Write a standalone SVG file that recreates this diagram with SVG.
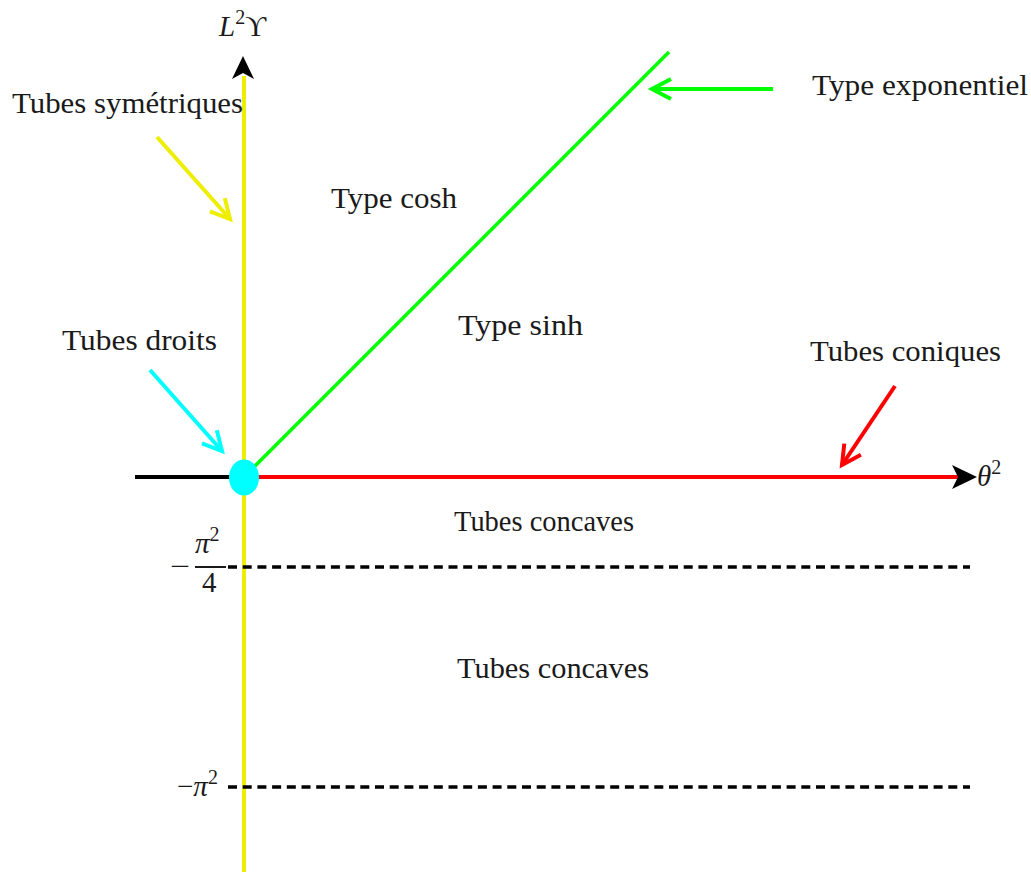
<svg xmlns="http://www.w3.org/2000/svg" width="1031" height="872" viewBox="0 0 1031 872">
<style>
text{font-family:"Liberation Serif","DejaVu Serif",serif;font-size:29px;fill:#1a1a1a}
.it{font-style:italic}
.sup{font-size:20px}
.dash{stroke:#000;stroke-width:3.5;stroke-dasharray:9 5.7;fill:none}
</style>
<defs>
<marker id="hy" markerUnits="userSpaceOnUse" markerWidth="30" markerHeight="30" viewBox="-25 -15 30 30" refX="0" refY="0" orient="auto"><path d="M-19,-10 L0,0 L-19,10" fill="none" stroke="#eeee00" stroke-width="4"/></marker>
<marker id="hc" markerUnits="userSpaceOnUse" markerWidth="30" markerHeight="30" viewBox="-25 -15 30 30" refX="0" refY="0" orient="auto"><path d="M-19,-10 L0,0 L-19,10" fill="none" stroke="#00ffff" stroke-width="4"/></marker>
<marker id="hr" markerUnits="userSpaceOnUse" markerWidth="30" markerHeight="30" viewBox="-25 -15 30 30" refX="0" refY="0" orient="auto"><path d="M-19,-10 L0,0 L-19,10" fill="none" stroke="#ff0000" stroke-width="4"/></marker>
<marker id="hg" markerUnits="userSpaceOnUse" markerWidth="30" markerHeight="30" viewBox="-25 -15 30 30" refX="0" refY="0" orient="auto"><path d="M-19,-10 L0,0 L-19,10" fill="none" stroke="#00ff00" stroke-width="4"/></marker>
</defs>
<g id="connectors">
<line x1="135" y1="477" x2="232" y2="477" stroke="#000" stroke-width="4"/>
<line x1="256" y1="477" x2="958" y2="477" stroke="#ff0000" stroke-width="4"/>
<path d="M977,477 L952,465 L958,477 L952,489 Z" fill="#000"/>
<line x1="244" y1="76" x2="244" y2="872" stroke="#eeee00" stroke-width="4"/>
<path d="M243,56 L232,79 L243,73 L254,79 Z" fill="#000"/>
<line x1="254" y1="467" x2="669" y2="52" stroke="#00ff00" stroke-width="3.5"/>
<line class="dash" x1="228" y1="567" x2="970" y2="567"/>
<line class="dash" x1="228" y1="787" x2="970" y2="787"/>
<line x1="773" y1="89" x2="652" y2="89" stroke="#00ff00" stroke-width="4" marker-end="url(#hg)"/>
<line x1="157" y1="137" x2="230" y2="219" stroke="#eeee00" stroke-width="4" marker-end="url(#hy)"/>
<line x1="150" y1="370" x2="222" y2="451" stroke="#00ffff" stroke-width="4" marker-end="url(#hc)"/>
<line x1="895" y1="386" x2="842" y2="465" stroke="#ff0000" stroke-width="4" marker-end="url(#hr)"/>
</g>
<g id="origin"><ellipse cx="244" cy="477.5" rx="15" ry="18" fill="#00ffff"/></g>
<g id="labels">
<text x="219" y="36"><tspan class="it">L</tspan><tspan class="sup" dy="-12">2</tspan><tspan dy="12">ϒ</tspan></text>
<text x="977" y="486"><tspan class="it">θ</tspan><tspan class="sup" dy="-12">2</tspan></text>
<text x="12" y="113" textLength="231" lengthAdjust="spacingAndGlyphs">Tubes symétriques</text>
<text x="331" y="208" textLength="126" lengthAdjust="spacingAndGlyphs">Type cosh</text>
<text x="458" y="335" textLength="125" lengthAdjust="spacingAndGlyphs">Type sinh</text>
<text x="812" y="95" textLength="216" lengthAdjust="spacingAndGlyphs">Type exponentiel</text>
<text x="62" y="350" textLength="155" lengthAdjust="spacingAndGlyphs">Tubes droits</text>
<text x="810" y="361" textLength="191" lengthAdjust="spacingAndGlyphs">Tubes coniques</text>
<text x="454" y="531" textLength="180" lengthAdjust="spacingAndGlyphs">Tubes concaves</text>
<text x="457" y="678" textLength="192" lengthAdjust="spacingAndGlyphs" style="font-size:30px">Tubes concaves</text>
<text x="170" y="576" textLength="20" lengthAdjust="spacingAndGlyphs">−</text>
<text x="195" y="553"><tspan class="it">π</tspan><tspan class="sup" dy="-12">2</tspan></text>
<line x1="195" y1="567" x2="226" y2="567" stroke="#1a1a1a" stroke-width="2"/>
<text x="202" y="592">4</text>
<text x="177" y="796">−<tspan class="it">π</tspan><tspan class="sup" dy="-12">2</tspan></text>
</g>
</svg>
